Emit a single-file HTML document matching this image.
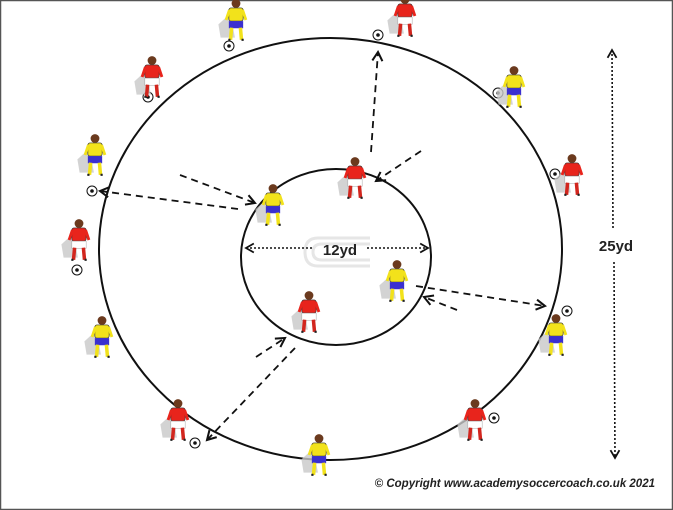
<!DOCTYPE html>
<html><head><meta charset="utf-8"><style>
html,body{margin:0;padding:0;background:#fff;}
svg{display:block;}
</style></head><body>
<svg width="673" height="510" viewBox="0 0 673 510" xmlns="http://www.w3.org/2000/svg">
<defs>
<marker id="ah" viewBox="0 0 10 10" refX="8" refY="5" markerWidth="7" markerHeight="7" orient="auto-start-reverse">
<path d="M1,1 L8,5 L1,9" fill="none" stroke="#111" stroke-width="1.6"/>
</marker>
<g id="py0">
<path d="M-16,4 L-5,-6 L-1,16 L-14,16 Z" fill="#c8c8c8" opacity="0.8"/>
<circle cx="0" cy="-15" r="4" fill="#6b3a1e"/>
<rect x="-6.5" y="-11" width="13" height="12" rx="2" fill="#f2e21b" stroke="#333" stroke-width="0.6"/>
<rect x="-6.5" y="1" width="13" height="6.5" fill="#3a2fd0"/>
<path d="M-4,7 L-5,18 M4,7 L5,18" stroke="#f2e21b" stroke-width="3.2"/>
<path d="M-5,18 h-2 M5,18 h2" stroke="#222" stroke-width="2"/>
<path d="M-6,-9 L-9,0 M6,-9 L9,0" stroke="#f2e21b" stroke-width="2.6"/>
</g>
<g id="pr0">
<path d="M-16,4 L-5,-6 L-1,16 L-14,16 Z" fill="#c8c8c8" opacity="0.8"/>
<circle cx="0" cy="-15" r="4" fill="#6b3a1e"/>
<rect x="-6.5" y="-11" width="13" height="12" rx="2" fill="#e8241c" stroke="#333" stroke-width="0.6"/>
<rect x="-6.5" y="1" width="13" height="6.5" fill="#fff" stroke="#999" stroke-width="0.4"/>
<path d="M-4,7 L-5,18 M4,7 L5,18" stroke="#d2261e" stroke-width="3.2"/>
<path d="M-5,18 h-2 M5,18 h2" stroke="#222" stroke-width="2"/>
<path d="M-6,-9 L-9,0 M6,-9 L9,0" stroke="#e8241c" stroke-width="2.6"/>
</g>
<g id="py"><use href="#py0" transform="scale(1.1)"/></g>
<g id="pr"><use href="#pr0" transform="scale(1.1)"/></g>
<g id="ball"><circle r="5" fill="#fff" stroke="#111" stroke-width="1"/><circle r="1.8" fill="#111"/></g>
</defs>
<rect x="0.5" y="0.5" width="672" height="509" fill="#fff" stroke="#555" stroke-width="1.5"/>
<g fill="none" stroke="#e6e6e6" stroke-width="3">
<path d="M370,238 H318 Q305,238 305,252 Q305,266 318,266 H370"/>
<path d="M370,244 H322 Q313,244 313,252 Q313,260 322,260 H370"/>
</g>
<ellipse cx="330.5" cy="249" rx="231.5" ry="211" fill="none" stroke="#111" stroke-width="2"/>
<ellipse cx="336" cy="257" rx="95" ry="88" fill="none" stroke="#111" stroke-width="2"/>
<g stroke="#111" stroke-width="1.8" stroke-dasharray="7,5" fill="none" marker-end="url(#ah)">
<line x1="371" y1="152" x2="378" y2="52"/>
<line x1="421" y1="151" x2="376" y2="181"/>
<line x1="180" y1="175" x2="255" y2="203"/>
<line x1="238" y1="209" x2="100" y2="191"/>
<line x1="416" y1="286" x2="545" y2="306"/>
<line x1="457" y1="310" x2="424" y2="297"/>
<line x1="256" y1="357" x2="285" y2="338"/>
<line x1="295" y1="348" x2="207" y2="440"/>
</g>
<g stroke="#111" stroke-width="1.6" stroke-dasharray="2,2" fill="none">
<line x1="246" y1="248" x2="313" y2="248" marker-start="url(#ah)"/>
<line x1="367" y1="248" x2="428" y2="248" marker-end="url(#ah)"/>
<line x1="612" y1="50" x2="613" y2="228" marker-start="url(#ah)"/>
<line x1="614" y1="262" x2="615" y2="458" marker-end="url(#ah)"/>
</g>
<text x="340" y="255" font-family="Liberation Sans, sans-serif" font-size="15" font-weight="bold" text-anchor="middle" fill="#222">12yd</text>
<text x="616" y="251" font-family="Liberation Sans, sans-serif" font-size="15" font-weight="bold" text-anchor="middle" fill="#222">25yd</text>
<text x="655" y="487" font-family="Liberation Sans, sans-serif" font-size="11.5" font-weight="bold" font-style="italic" text-anchor="end" fill="#222">© Copyright www.academysoccercoach.co.uk 2021</text>
<use href="#ball" x="229" y="46"/><use href="#ball" x="378" y="35"/><use href="#ball" x="148" y="97"/>
<use href="#ball" x="555" y="174"/><use href="#ball" x="92" y="191"/><use href="#ball" x="77" y="270"/>
<use href="#ball" x="498" y="93"/><use href="#ball" x="567" y="311"/><use href="#ball" x="195" y="443"/>
<use href="#ball" x="494" y="418"/>
<use href="#py" x="236" y="20"/><use href="#py" x="514" y="87"/><use href="#py" x="95" y="155"/>
<use href="#py" x="102" y="337"/><use href="#py" x="319" y="455"/><use href="#py" x="556" y="335"/>
<use href="#py" x="273" y="205"/><use href="#py" x="397" y="281"/>
<use href="#pr" x="405" y="16"/><use href="#pr" x="152" y="77"/><use href="#pr" x="572" y="175"/>
<use href="#pr" x="79" y="240"/><use href="#pr" x="178" y="420"/><use href="#pr" x="475" y="420"/>
<use href="#pr" x="355" y="178"/><use href="#pr" x="309" y="312"/>
</svg>
</body></html>
